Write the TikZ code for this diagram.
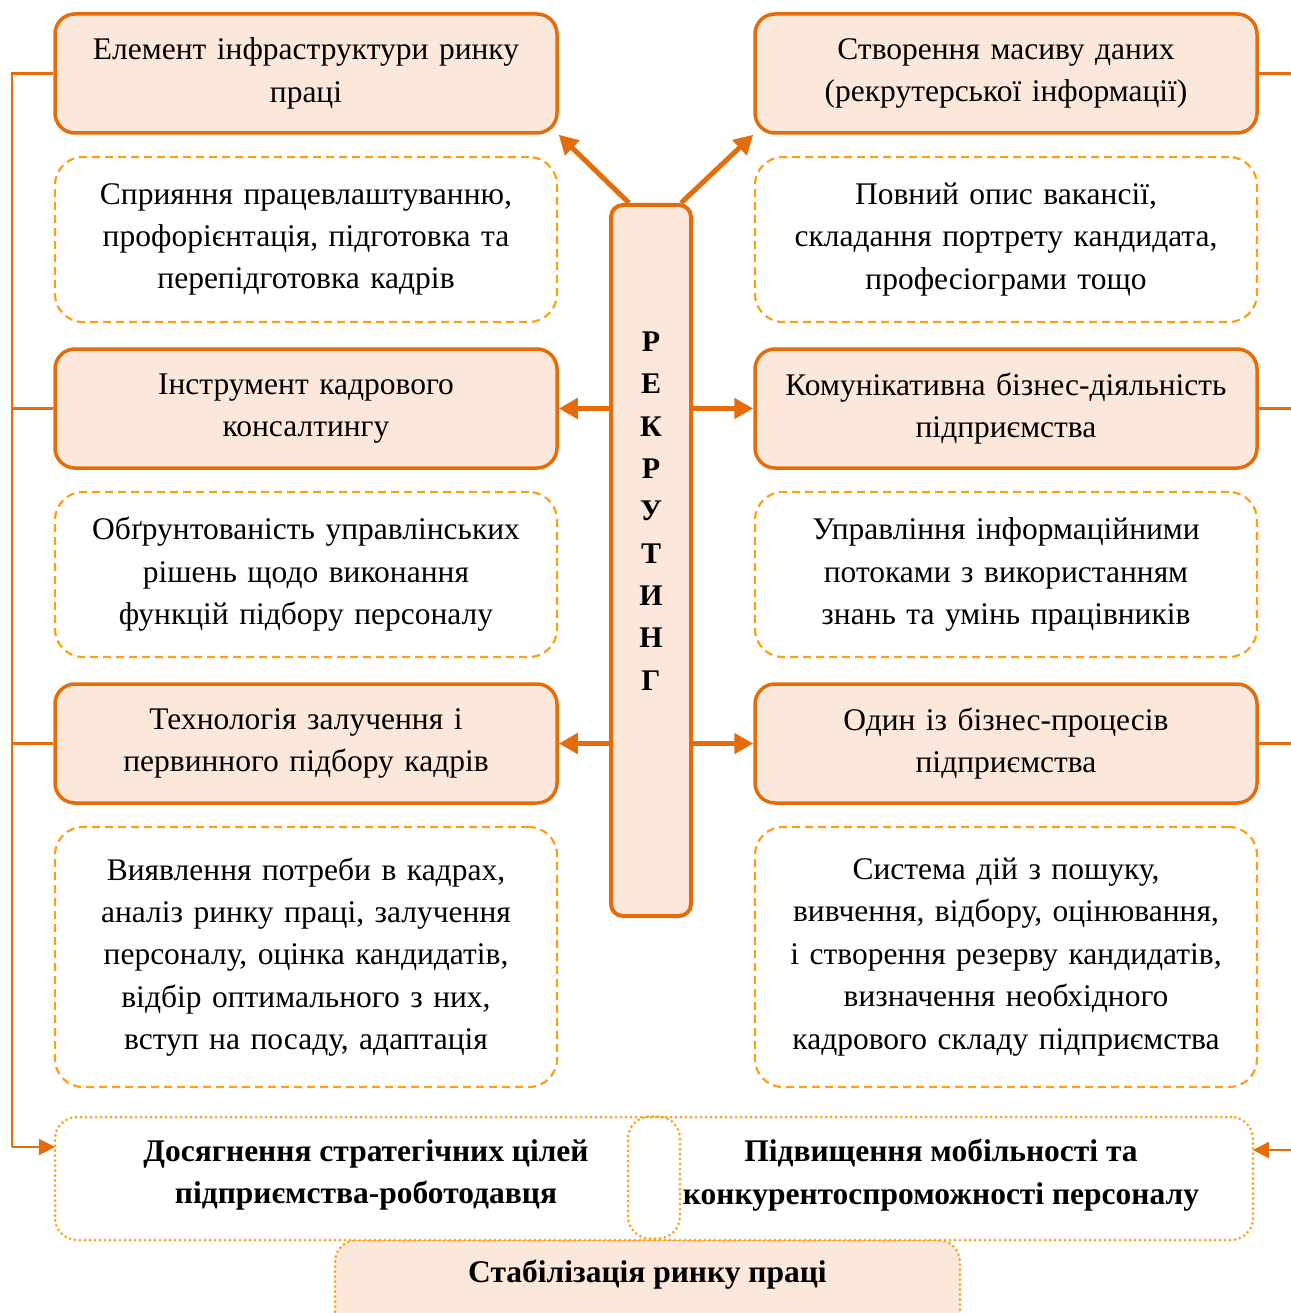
\documentclass[tikz,border=0pt]{standalone}
\usepackage{fontspec}
\setmainfont{Liberation Serif}
\usetikzlibrary{arrows.meta,calc}
\definecolor{dorange}{RGB}{228,108,10}
\definecolor{lorange}{RGB}{255,158,20}
\definecolor{peach}{RGB}{252,232,218}
\newcommand{\fsz}{\fontsize{31.5}{42.4}\selectfont}
\begin{document}
\begin{tikzpicture}[x=1pt,y=-1pt,
  solidbox/.style={draw=dorange, fill=peach, line width=3.5pt, rounded corners=20pt,
    minimum width=502pt, minimum height=119pt, text width=496pt, align=center, inner sep=0pt, font=\fsz},
  dashbox/.style={draw=lorange, line width=2.2pt, dash pattern=on 8pt off 5pt, rounded corners=28pt,
    minimum width=502pt, text width=496pt, align=center, inner sep=0pt, font=\fsz},
  dotbox/.style={draw=lorange, line width=3pt, dash pattern=on 0pt off 5pt, line cap=round, rounded corners=22pt},
  plaintext/.style={align=center, inner sep=0pt, font=\fsz\bfseries},
  mainarr/.style={draw=dorange, line width=5pt, -{Triangle[length=19pt,width=20pt]}},
  sideline/.style={draw=dorange, line width=2.4pt},
  sidearr/.style={draw=dorange, line width=2.4pt, -{Triangle[length=16pt,width=16pt]}}
]
\useasboundingbox (0,0) rectangle (1290,1313);

% solid boxes
\node[solidbox] (e1) at (306,73.5) {Елемент інфраструктури ринку\\праці};
\node[solidbox] (e2) at (306,408.5) {Інструмент кадрового\\консалтингу};
\node[solidbox] (e3) at (306,743.5) {Технологія залучення і\\первинного підбору кадрів};
\node[solidbox] (r1) at (1006,73.5) {Створення масиву даних\\(рекрутерської інформації)};
\node[solidbox] (r2) at (1006,408.5) {Комунікативна бізнес-діяльність\\підприємства};
\node[solidbox] (r3) at (1006,743.5) {Один із бізнес-процесів\\підприємства};

% dashed boxes
\node[dashbox, minimum height=165pt] (d1) at (306,239.5) {Сприяння працевлаштуванню,\\профорієнтація, підготовка та\\перепідготовка кадрів};
\node[dashbox, minimum height=165pt] (d2) at (306,574.5) {Обґрунтованість управлінських\\рішень щодо виконання\\функцій підбору персоналу};
\node[dashbox, minimum height=260pt] (d3) at (306,957) {Виявлення потреби в кадрах,\\аналіз ринку праці, залучення\\персоналу, оцінка кандидатів,\\відбір оптимального з них,\\вступ на посаду, адаптація};
\node[dashbox, minimum height=165pt] (q1) at (1006,239.5) {Повний опис вакансії,\\складання портрету кандидата,\\професіограми тощо};
\node[dashbox, minimum height=165pt] (q2) at (1006,574.5) {Управління інформаційними\\потоками з використанням\\знань та умінь працівників};
\node[dashbox, minimum height=260pt] (q3) at (1006,957) {Система дій з пошуку,\\вивчення, відбору, оцінювання,\\і створення резерву кандидатів,\\визначення необхідного\\кадрового складу підприємства};

% central box
\node[draw=dorange, fill=peach, line width=4pt, rounded corners=12pt, minimum width=80pt, minimum height=711pt, inner sep=0pt] (c) at (651,560.5) {};
\node[plaintext, font=\fontsize{30}{42.3}\selectfont\bfseries] (ct) at (651,511) {Р\\Е\\К\\Р\\У\\Т\\И\\Н\\Г};

% bottom boxes
\node[dotbox, fill=peach, minimum width=625pt, minimum height=110pt, inner sep=0pt] (stab) at (647.5,1295) {};
\node[plaintext] (stabt) at (647.5,1275) {Стабілізація ринку праці};
\node[dotbox, fill=white, minimum width=1198pt, minimum height=123pt, inner sep=0pt] (goal) at (654,1178.5) {};
\node[dotbox, minimum width=52pt, minimum height=122pt, inner sep=0pt] (mid) at (654,1177.5) {};
\node[plaintext] (g1) at (366,1175) {Досягнення стратегічних цілей\\підприємства-роботодавця};
\node[plaintext] (g2) at (941,1175) {Підвищення мобільності та\\конкурентоспроможності персоналу};

% arrows from centre
\draw[mainarr] ($(c.north)+(-22,0)$) -- (e1.south east);
\draw[mainarr] ($(c.north)+(30,0)$) -- (r1.south west);
\draw[mainarr] (c.west |- e2.east) -- (e2.east);
\draw[mainarr] (c.west |- e3.east) -- (e3.east);
\draw[mainarr] (c.east |- r2.west) -- (r2.west);
\draw[mainarr] (c.east |- r3.west) -- (r3.west);

% side connectors
\coordinate (lx) at (12,0);
\coordinate (rx) at (1300,0);
\coordinate (gl) at (55,1147);
\coordinate (gr) at (1253,1150);
\draw[sideline] (e1.west) -- (e1.west -| lx) -- (gl -| lx);
\draw[sideline] (e2.west) -- (e2.west -| lx);
\draw[sideline] (e3.west) -- (e3.west -| lx);
\draw[sidearr] (gl -| lx) -- (gl);
\draw[sideline] (r1.east) -- (r1.east -| rx);
\draw[sideline] (r2.east) -- (r2.east -| rx);
\draw[sideline] (r3.east) -- (r3.east -| rx);
\draw[sidearr] (gr -| rx) -- (gr);
\end{tikzpicture}
\end{document}
